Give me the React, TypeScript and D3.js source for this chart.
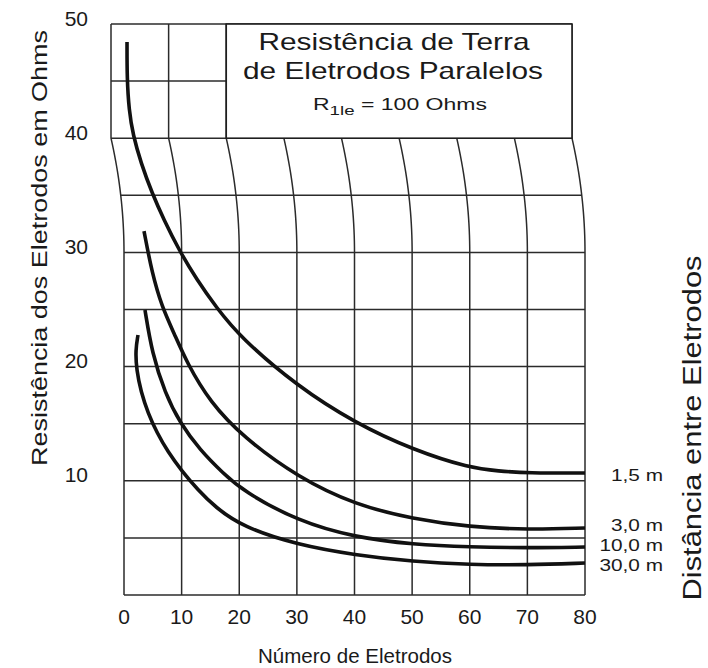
import React, { useEffect, useRef } from 'react';
import * as d3 from 'd3';

// eixos
const xTicks = [0, 10, 20, 30, 40, 50, 60, 70, 80];
const yTicks = [10, 20, 30, 40, 50];
const gridLevels = [0, 5, 10, 15, 20, 25, 30, 35, 40, 45, 50];

// distância entre eletrodos (rótulos das curvas)
const spacingLabels = ['1,5 m', '3,0 m', '10,0 m', '30,0 m'];

// [número de eletrodos, resistência em ohms]
const curve15: [number, number][] = [
    [2.78, 48.42], [2.78, 45.27], [3.12, 42.47], [3.82, 40.28], [4.33, 37.83], [5.47, 35.2],
    [7.12, 32.84], [9.54, 30.21], [12.67, 27.58], [15.97, 25.22], [20.13, 22.59], [30.02, 18.3],
    [40.1, 15.06], [50.2, 12.7], [60, 11.12], [65, 10.85], [70, 10.68], [80, 10.68],
];
const curve30: [number, number][] = [
    [3.55, 31.87], [4.86, 28.2], [6.59, 25.22], [8.68, 22.94], [10.93, 20.32], [14.92, 16.9],
    [20.65, 13.84], [30.2, 10.3], [40.1, 7.9], [50.2, 6.65], [60, 5.95], [70, 5.72], [80, 5.87],
];
const curve100: [number, number][] = [
    [3.64, 24.96], [4.86, 21.19], [7.11, 17.69], [9.72, 15.06], [13.19, 12.7], [17.18, 10.68],
    [20.65, 9.11], [30.2, 6.45], [40.1, 5.05], [50.2, 4.42], [60, 4.2], [70, 4.12], [80, 4.2],
];
const curve300: [number, number][] = [
    [2.43, 22.77], [1.99, 21.45], [2.17, 19.7], [2.95, 17.78], [4.16, 15.94], [5.73, 14.19],
    [7.64, 12.52], [9.89, 10.95], [12.84, 9.19], [15.79, 7.71], [20.65, 5.95], [30.02, 4.4],
    [40.1, 3.5], [50.2, 2.92], [60, 2.65], [70, 2.63], [80, 2.8],
];
const curves = [curve15, curve30, curve100, curve300];

const FONT = '"Liberation Sans", Arial, Helvetica, sans-serif';

export default function App() {
    const ref = useRef<SVGSVGElement>(null);

    useEffect(() => {
        const svg = d3.select(ref.current);
        svg.selectAll('*').remove();

        const x = d3.scaleLinear().domain([0, 80]).range([124, 585]);
        const y = d3.scaleLinear().domain([0, 50]).range([595, 24]);

        // the upper part of the grid (above 30 ohms) leans to the left, as in the printed chart
        const bend = (r: number) => (r >= 40 ? -13 : r <= 30 ? 0 : -13 * Math.pow((r - 30) / 10, 2));
        const px = (n: number, r: number) => x(n) + bend(r);

        const grid = svg.append('g').attr('fill', 'none').attr('stroke', '#2b2b2b').attr('stroke-width', 1.5);
        const rs = d3.range(0, 50.01, 0.5);
        xTicks.forEach((v) => {
            grid.append('path').attr(
                'd',
                d3
                    .line<number>()
                    .x((r) => px(v, r))
                    .y((r) => y(r))(rs)
            );
        });
        gridLevels.forEach((r) => {
            grid.append('line')
                .attr('x1', px(0, r))
                .attr('x2', px(80, r))
                .attr('y1', y(r))
                .attr('y2', y(r));
        });

        // title box
        const bx0 = px(20, 45);
        const bx1 = px(80, 45);
        svg.append('rect')
            .attr('x', bx0)
            .attr('y', y(50))
            .attr('width', bx1 - bx0)
            .attr('height', y(40) - y(50))
            .attr('fill', '#fff')
            .attr('stroke', '#1e1e1e')
            .attr('stroke-width', 1.6);

        const txt = svg.append('g').attr('font-family', FONT).attr('fill', '#1a1a1a');
        txt.append('text')
            .attr('x', 394)
            .attr('y', 50)
            .attr('text-anchor', 'middle')
            .attr('font-size', 24)
            .attr('textLength', 271)
            .attr('lengthAdjust', 'spacingAndGlyphs')
            .text('Resistência de Terra');
        txt.append('text')
            .attr('x', 393)
            .attr('y', 79)
            .attr('text-anchor', 'middle')
            .attr('font-size', 24)
            .attr('textLength', 300)
            .attr('lengthAdjust', 'spacingAndGlyphs')
            .text('de Eletrodos Paralelos');
        const sub = txt
            .append('text')
            .attr('x', 313)
            .attr('y', 110)
            .attr('font-size', 16)
            .attr('textLength', 174)
            .attr('lengthAdjust', 'spacingAndGlyphs');
        sub.append('tspan').text('R');
        sub.append('tspan').attr('dy', 5).attr('font-size', 13).text('1le');
        sub.append('tspan').attr('dy', -5).text(' = 100 Ohms');

        // curves
        const line = d3
            .line<[number, number]>()
            .x((d) => px(d[0], d[1]))
            .y((d) => y(d[1]))
            .curve(d3.curveBasis);
        curves.forEach((c) => {
            svg.append('path')
                .attr('d', line(c))
                .attr('fill', 'none')
                .attr('stroke', '#111')
                .attr('stroke-width', 3.6)
                .attr('stroke-linejoin', 'round');
        });

        // curve labels at the right end, kept at least 20px apart
        const labelY = curves.map((c) => y(c[c.length - 1][1]) + 4);
        for (let i = labelY.length - 2; i >= 0; i--) labelY[i] = Math.min(labelY[i], labelY[i + 1] - 20);
        spacingLabels.forEach((s, i) => {
            txt.append('text')
                .attr('transform', `translate(663,${labelY[i]}) scale(1.3,1)`)
                .attr('text-anchor', 'end')
                .attr('dominant-baseline', 'middle')
                .attr('font-size', 16)
                .text(s);
        });

        // tick labels
        txt.selectAll('.ytick')
            .data(yTicks)
            .enter()
            .append('text')
            .attr('class', 'ytick')
            .attr('x', 88)
            .attr('y', (d) => y(d) - 4)
            .attr('text-anchor', 'end')
            .attr('dominant-baseline', 'middle')
            .attr('font-size', 21)
            .text((d) => d);
        txt.selectAll('.xtick')
            .data(xTicks)
            .enter()
            .append('text')
            .attr('class', 'xtick')
            .attr('x', (d) => x(d))
            .attr('y', y(0) + 29)
            .attr('text-anchor', 'middle')
            .attr('font-size', 21)
            .text((d) => d);

        // axis titles
        txt.append('text')
            .attr('x', 355)
            .attr('y', 663)
            .attr('text-anchor', 'middle')
            .attr('font-size', 21)
            .attr('textLength', 194)
            .attr('lengthAdjust', 'spacingAndGlyphs')
            .text('Número de Eletrodos');
        txt.append('text')
            .attr('transform', 'translate(47,248) rotate(-90)')
            .attr('text-anchor', 'middle')
            .attr('font-size', 22)
            .attr('textLength', 436)
            .attr('lengthAdjust', 'spacingAndGlyphs')
            .text('Resistência dos Eletrodos em Ohms');
        txt.append('text')
            .attr('transform', 'translate(701,428) rotate(-90)')
            .attr('text-anchor', 'middle')
            .attr('font-size', 25)
            .attr('textLength', 345)
            .attr('lengthAdjust', 'spacingAndGlyphs')
            .text('Distância entre Eletrodos');
    }, []);

    return (
        <svg
            ref={ref}
            width={708}
            height={668}
            style={{ position: 'absolute', left: 0, top: 0, background: '#fff', display: 'block' }}
        />
    );
}
